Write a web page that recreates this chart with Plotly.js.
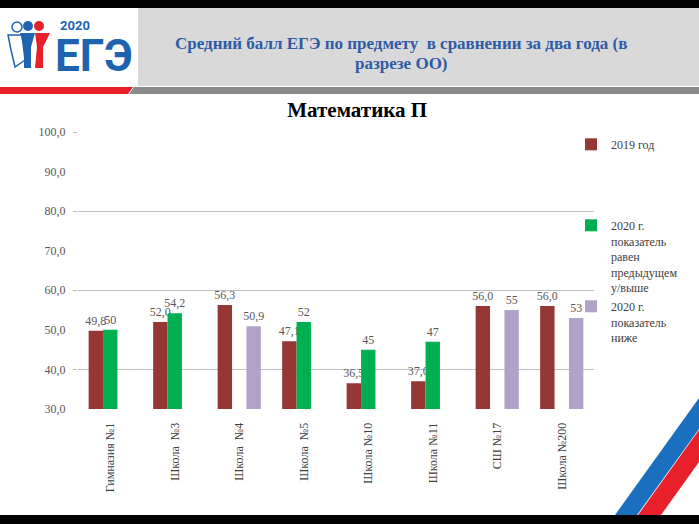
<!DOCTYPE html>
<html>
<head>
<meta charset="utf-8">
<script src="https://cdn.plot.ly/plotly-3.0.1.min.js"></script>
<style>html,body{margin:0;padding:0;background:#fff;}#chart{width:699px;height:524px;}</style>
</head>
<body>
<div id="chart"></div>
<script>
const categories = ['Гимназия №1', 'Школа  №3', 'Школа  №4', 'Школа  №5', 'Школа №10', 'Школа №11', 'СШ №17', 'Школа №200'];
const values2019 = [49.8, 52.0, 56.3, 47.1, 36.5, 37.0, 56.0, 56.0];
const values2020Up = [50, 54.2, null, 52, 45, 47, null, null];
const values2020Down = [null, null, 50.9, null, null, null, 55, 53];
const seriesNames = ['2019 год', '2020 г.<br>показатель<br>равен<br>предыдущем<br>у/выше', '2020 г.<br>показатель<br>ниже'];
const yTicks = [30, 40, 50, 60, 70, 80, 90, 100];

const SERIF = "'Liberation Serif', 'Times New Roman', serif";
const fmt1 = v => v == null ? '' : v.toFixed(1).replace('.', ',');
const fmtG = v => v == null ? '' : String(v).replace('.', ',');

// plot-area geometry helpers for decorative shapes (pixel -> paper)
const PL = 78, PR = 594, PT = 132, PB = 409;
const X = px => (px - PL) / (PR - PL);
const Y = py => (PB - py) / (PB - PT);
const poly = pts => 'M' + pts.map(p => X(p[0]) + ',' + Y(p[1])).join('L') + 'Z';

const textFont = {family: SERIF, size: 12, color: '#595959'};

const traces = [
  {type: 'bar', x: categories, y: values2019, name: seriesNames[0] + '<br>\u00a0<br>\u00a0<br>\u00a0<br>\u00a0', marker: {color: '#953735'},
   text: values2019.map(fmt1), textposition: 'outside', constraintext: 'none', textfont: textFont,
   hoverinfo: 'skip', legendgroup: 'a'},
  {type: 'bar', x: categories, y: values2020Up, name: seriesNames[1], marker: {color: '#00B050'},
   text: values2020Up.map(fmtG), textposition: 'outside', constraintext: 'none', textfont: textFont,
   hoverinfo: 'skip', legendgroup: 'b'},
  {type: 'bar', x: categories, y: values2020Down, name: seriesNames[2], marker: {color: '#B3A2C7'},
   text: values2020Down.map(fmtG), textposition: 'outside', constraintext: 'none', textfont: textFont,
   hoverinfo: 'skip', legendgroup: 'c'},
  {type: 'scatter', x: [], y: [], yaxis: 'y2', showlegend: false, hoverinfo: 'skip'}
];

const shapes = [
  {type: 'path', xref: 'paper', yref: 'paper', path: poly([[0,0],[699,0],[699,8],[0,8]]), fillcolor: '#000', line: {width: 0}},
  {type: 'path', xref: 'paper', yref: 'paper', path: poly([[138,8],[699,8],[699,86],[138,86]]), fillcolor: '#D9D9D9', line: {width: 0}},
  {type: 'path', xref: 'paper', yref: 'paper', path: poly([[0,87],[133,87],[128,94],[0,94]]), fillcolor: '#E8202A', line: {width: 0}},
  {type: 'path', xref: 'paper', yref: 'paper', path: poly([[134,87],[699,87],[699,94],[129,94]]), fillcolor: '#8A8A8A', line: {width: 0}},
  {type: 'path', xref: 'paper', yref: 'paper', path: poly([[0,515],[699,515],[699,524],[0,524]]), fillcolor: '#000', line: {width: 0}},
  {type: 'path', xref: 'paper', yref: 'paper', path: poly([[615,515],[699,398],[699,429],[637,515]]), fillcolor: '#1B6FBF', line: {width: 0}},
  {type: 'path', xref: 'paper', yref: 'paper', path: poly([[638,515],[699,430],[699,462],[661,515]]), fillcolor: '#E8202A', line: {width: 0}},
  {type: 'path', xref: 'paper', yref: 'paper', path: poly([[8,35],[22,35],[25,60],[15,67],[11,50]]), fillcolor: '#fff', line: {color: '#1E63B0', width: 1.5}},
  {type: 'path', xref: 'paper', yref: 'paper', path: poly([[20,33],[35,33],[31,47],[31,68],[24,68],[24,47]]), fillcolor: '#1E63B0', line: {width: 0}},
  {type: 'path', xref: 'paper', yref: 'paper', path: poly([[35,33],[50,33],[43,47],[43,68],[35,68],[37,47]]), fillcolor: '#E8202A', line: {width: 0}},
  {type: 'circle', xref: 'paper', yref: 'paper', x0: X(12), x1: X(22), y0: Y(32), y1: Y(22), fillcolor: '#fff', line: {color: '#1E63B0', width: 1.5}},
  {type: 'circle', xref: 'paper', yref: 'paper', x0: X(23), x1: X(33), y0: Y(31), y1: Y(21), fillcolor: '#1E63B0', line: {width: 0}},
  {type: 'circle', xref: 'paper', yref: 'paper', x0: X(34), x1: X(44), y0: Y(31), y1: Y(21), fillcolor: '#E8202A', line: {width: 0}}
];

const annotations = [
  {xref: 'paper', yref: 'paper', x: X(401), y: Y(44), text: 'Средний балл ЕГЭ по предмету  в сравнении за два года (в', showarrow: false,
   xanchor: 'center', yanchor: 'middle', font: {family: SERIF, size: 17, color: '#2E5BA6', weight: 'bold'}},
  {xref: 'paper', yref: 'paper', x: X(401), y: Y(63), text: 'разрезе ОО)', showarrow: false,
   xanchor: 'center', yanchor: 'middle', font: {family: SERIF, size: 17, color: '#2E5BA6', weight: 'bold'}},
  {xref: 'paper', yref: 'paper', x: X(75), y: Y(25), text: '2020', showarrow: false,
   xanchor: 'center', yanchor: 'middle', font: {family: 'Roboto, DejaVu Sans, sans-serif', size: 13, color: '#1E63B0', weight: 'bold'}},
  {xref: 'paper', yref: 'paper', x: X(94), y: Y(56), text: 'ЕГЭ', showarrow: false,
   xanchor: 'center', yanchor: 'middle', font: {family: 'Roboto, sans-serif', size: 44, color: '#1E63B0', weight: 'bold'}}
];

const layout = {
  width: 699, height: 524, autosize: false,
  margin: {l: PL, r: 699 - PR, t: PT, b: 524 - PB, pad: 0},
  paper_bgcolor: '#fff', plot_bgcolor: '#fff',
  separators: ', ',
  barmode: 'group', bargap: 0.33, bargroupgap: 0,
  title: {text: 'Математика П', x: 0.511, xanchor: 'center', y: 1 - 110 / 524, yanchor: 'middle',
          font: {family: SERIF, size: 21, color: '#000', weight: 'bold'}},
  xaxis: {type: 'category', tickangle: -90, showgrid: false, zeroline: false, showline: false,
          ticks: 'outside', ticklen: 8, tickcolor: 'rgba(0,0,0,0)',
          tickfont: {family: SERIF, size: 12, color: '#404040'}},
  yaxis: {range: [30, 100], tickvals: yTicks, tickformat: '.1f', showgrid: false, zeroline: false, showline: false,
          ticks: 'outside', ticklen: 9, tickcolor: 'rgba(0,0,0,0)',
          tickfont: {family: SERIF, size: 12, color: '#595959'}},
  yaxis2: {overlaying: 'y', side: 'left', range: [30, 100], tick0: 40, dtick: 20, showticklabels: false,
           showgrid: true, gridcolor: '#BFBFBF', gridwidth: 1, zeroline: false, showline: false,
           ticks: 'outside', ticklen: 4, tickcolor: '#BFBFBF'},
  legend: {x: X(571), xanchor: 'left', y: Y(130), yanchor: 'top', valign: 'top', traceorder: 'grouped', tracegroupgap: 0,
           bgcolor: 'rgba(0,0,0,0)', font: {family: SERIF, size: 12, color: '#404040'}},
  shapes: shapes,
  annotations: annotations
};

Plotly.newPlot('chart', traces, layout, {displayModeBar: false, staticPlot: true});
</script>
</body>
</html>
